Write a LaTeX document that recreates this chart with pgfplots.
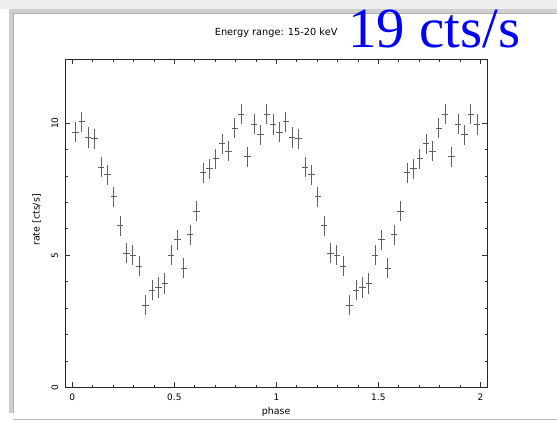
\documentclass[border=0pt]{standalone}
\usepackage{fontspec}
\setmainfont{DejaVu Sans}
\newfontfamily\bigserif{Liberation Serif}
\usepackage{pgfplots}
\pgfplotsset{compat=1.18}
\usepackage{pgfplotstable}

% folded light curve, 32 phase bins, shown over two cycles
\pgfplotstableread{
x        y      ex       ey
0.015625 9.66   0.015625 0.38
0.046875 10.06  0.015625 0.38
0.078125 9.46   0.015625 0.38
0.109375 9.41   0.015625 0.38
0.140625 8.34   0.015625 0.38
0.171875 8.05   0.015625 0.38
0.203125 7.21   0.015625 0.38
0.234375 6.12   0.015625 0.38
0.265625 5.07   0.015625 0.38
0.296875 5.01   0.015625 0.38
0.328125 4.58   0.015625 0.38
0.359375 3.11   0.015625 0.38
0.390625 3.68   0.015625 0.38
0.421875 3.78   0.015625 0.38
0.453125 3.93   0.015625 0.38
0.484375 5.01   0.015625 0.38
0.515625 5.59   0.015625 0.38
0.546875 4.51   0.015625 0.38
0.578125 5.78   0.015625 0.38
0.609375 6.66   0.015625 0.38
0.640625 8.13   0.015625 0.38
0.671875 8.27   0.015625 0.38
0.703125 8.65   0.015625 0.38
0.734375 9.22   0.015625 0.38
0.765625 8.94   0.015625 0.38
0.796875 9.81   0.015625 0.38
0.828125 10.35  0.015625 0.38
0.859375 8.73   0.015625 0.38
0.890625 9.97   0.015625 0.38
0.921875 9.56   0.015625 0.38
0.953125 10.35  0.015625 0.38
0.984375 9.95   0.015625 0.38
1.015625 9.66   0.015625 0.38
1.046875 10.06  0.015625 0.38
1.078125 9.46   0.015625 0.38
1.109375 9.41   0.015625 0.38
1.140625 8.34   0.015625 0.38
1.171875 8.05   0.015625 0.38
1.203125 7.21   0.015625 0.38
1.234375 6.12   0.015625 0.38
1.265625 5.07   0.015625 0.38
1.296875 5.01   0.015625 0.38
1.328125 4.58   0.015625 0.38
1.359375 3.11   0.015625 0.38
1.390625 3.68   0.015625 0.38
1.421875 3.78   0.015625 0.38
1.453125 3.93   0.015625 0.38
1.484375 5.01   0.015625 0.38
1.515625 5.59   0.015625 0.38
1.546875 4.51   0.015625 0.38
1.578125 5.78   0.015625 0.38
1.609375 6.66   0.015625 0.38
1.640625 8.13   0.015625 0.38
1.671875 8.27   0.015625 0.38
1.703125 8.65   0.015625 0.38
1.734375 9.22   0.015625 0.38
1.765625 8.94   0.015625 0.38
1.796875 9.81   0.015625 0.38
1.828125 10.35  0.015625 0.38
1.859375 8.73   0.015625 0.38
1.890625 9.97   0.015625 0.38
1.921875 9.56   0.015625 0.38
1.953125 10.35  0.015625 0.38
1.984375 9.95   0.015625 0.38
}\lightcurve

\begin{document}
\begin{tikzpicture}[x=1bp,y=1bp]
  \path[use as bounding box] (0,0) rectangle (557,428);
  % slide background and panel frame
  \fill[gray!13] (0,419) rectangle (557,428);
  \fill[gray!38] (9,414) rectangle (557,419);
  \fill[gray!38] (9,15) rectangle (14,419);
  \draw[gray!62, line width=0.8bp] (13.6,15) -- (13.6,414.4) -- (557,414.4);
  \draw[gray!55, line width=1.6bp] (13,8.5) -- (557,8.5);

  \begin{axis}[
    at={(65bp,40.7bp)}, anchor=south west,
    scale only axis, width=422.3bp, height=328bp,
    xmin=-0.036, xmax=2.034, ymin=0, ymax=12.42,
    xtick={0,0.5,1,1.5,2}, ytick={0,5,10},
    minor x tick num=4, minor y tick num=4,
    tick align=inside, tick pos=both,
    major tick length=5bp, minor tick length=2.5bp,
    axis line style={black!85, line width=0.8bp},
    every tick/.style={black!80, line width=0.7bp},
    /pgf/number format/assume math mode=true,
    tick label style={font=\fontsize{9}{10}\selectfont},
    xticklabel style={inner sep=0pt, anchor=north},
    xticklabel shift=6bp,
    yticklabel style={rotate=90, inner sep=0pt, anchor=south},
    yticklabel shift=6.5bp,
    xlabel={phase},
    xlabel style={font=\fontsize{9.5}{11}\selectfont, at={(axis description cs:0.5,-0.0838)}, anchor=base},
    ylabel={rate [cts/s]},
    ylabel style={font=\fontsize{9.5}{11}\selectfont, at={(axis description cs:-0.067,0.51)}, anchor=center},
    title={Energy range: 15-20 keV},
    title style={font=\fontsize{9.8}{11}\selectfont, at={(axis description cs:0.5,1)}, anchor=base, yshift=17.8bp},
    clip=false,
  ]
    % crosses only: bin width horizontally, 1-sigma error vertically
    \addplot[draw=none, mark=none,
      error bars/.cd,
        x dir=both, x explicit,
        y dir=both, y explicit,
        error mark=none,
        error bar style={draw=black!62, line width=0.9bp}]
      table[x=x, y=y, x error=ex, y error=ey] {\lightcurve};
  \end{axis}

  \node[anchor=base west, inner sep=0pt, text=blue,
        font=\bigserif\fontsize{57}{60}\selectfont] at (348,381) {19 cts/s};
\end{tikzpicture}
\end{document}
